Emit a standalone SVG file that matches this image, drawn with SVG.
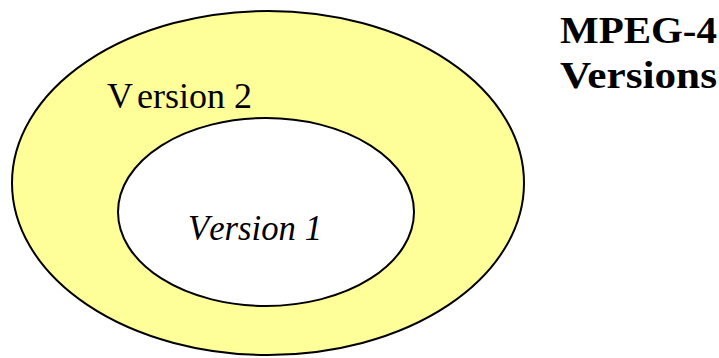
<svg xmlns="http://www.w3.org/2000/svg" width="719" height="358" viewBox="0 0 719 358">
  <style>
    .ring { stroke: #000; stroke-width: 2; }
    .lbl { font-family: 'Liberation Serif', 'Times New Roman', serif; font-size: 36px; fill: #000; }
    .title { font-family: 'Liberation Serif', 'Times New Roman', serif; font-weight: bold; font-size: 38px; fill: #000; }
  </style>
  <rect width="719" height="358" fill="#fff"/>
  <g id="version2">
    <ellipse class="ring" cx="268" cy="183" rx="256" ry="172" fill="#ffff99"/>
    <text class="lbl" x="107" y="108" textLength="145" lengthAdjust="spacingAndGlyphs">V<tspan dx="8">ersion 2</tspan></text>
  </g>
  <g id="version1">
    <ellipse class="ring" cx="266" cy="212" rx="148" ry="94" fill="#fff"/>
    <text class="lbl" x="188" y="240" font-style="italic" textLength="134" lengthAdjust="spacingAndGlyphs">V<tspan dx="4">ersion 1</tspan></text>
  </g>
  <g id="title">
    <text class="title" x="560" y="43" textLength="157" lengthAdjust="spacingAndGlyphs">MPEG-4</text>
    <text class="title" x="560" y="88" textLength="157" lengthAdjust="spacingAndGlyphs">Versions</text>
  </g>
</svg>
